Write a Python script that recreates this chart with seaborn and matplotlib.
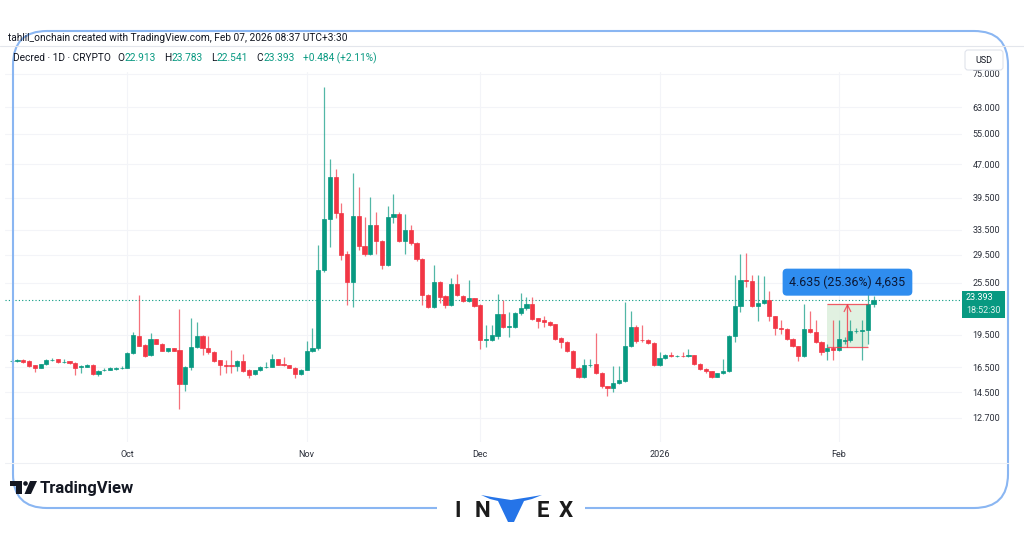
import numpy as np
import pandas as pd
import seaborn as sns
import matplotlib.pyplot as plt
import matplotlib.dates as mdates
from matplotlib.patches import FancyBboxPatch, Rectangle, Polygon, Circle
from matplotlib.ticker import NullLocator

# ---- data ----
start_date = '2025-09-11'
opens = [17.0, 17.05, 17.1, 17.05, 16.65, 16.45, 16.75, 17.1, 17.2, 16.95,
         17.0, 16.9, 16.55, 16.55, 16.7, 15.9, 16.25, 16.3, 16.35, 16.4,
         16.45, 17.75, 19.4, 18.5, 17.55, 19.05, 18.6, 17.95, 18.2, 18.0,
         15.1, 16.5, 18.3, 19.4, 18.25, 17.85, 17.1, 16.72, 16.68, 16.62,
         17.05, 16.3, 15.9, 16.25, 16.48, 16.55, 17.2, 16.8, 16.65, 16.45,
         15.9, 16.3, 17.9, 18.25, 27.3, 35.4, 44.0, 36.5, 29.6, 25.6,
         36.0, 30.8, 29.6, 34.3, 31.6, 27.95, 35.8, 36.4, 31.6, 33.5,
         31.3, 28.8, 23.95, 22.55, 25.6, 23.8, 22.75, 25.4, 23.8, 23.2,
         23.55, 22.7, 19.0, 19.0, 19.4, 21.7, 20.35, 20.35, 21.8, 22.35,
         22.85, 21.25, 21.0, 20.85, 20.6, 19.2, 18.8, 17.95, 16.45, 15.7,
         16.65, 16.8, 16.05, 14.95, 14.8, 15.2, 15.4, 18.4, 20.3, 19.0,
         19.0, 18.7, 16.7, 17.3, 17.6, 17.45, 17.5, 17.45, 17.55, 16.8,
         16.35, 16.15, 15.7, 16.0, 16.2, 19.4, 22.65, 25.9, 25.8, 22.6,
         22.95, 23.35, 21.45, 20.2, 20.1, 19.1, 18.4, 17.5, 20.1, 19.75,
         18.8, 17.9, 18.2, 18.05, 18.85, 18.95, 19.85, 19.9, 19.95, 22.913]
highs = [17.2, 17.25, 17.2, 17.1, 16.7, 16.8, 17.2, 17.3, 17.25, 17.2,
         17.05, 16.95, 16.7, 16.8, 16.75, 16.25, 16.45, 16.5, 16.55, 16.6,
         17.85, 19.75, 23.95, 18.55, 19.7, 19.1, 18.65, 18.25, 18.25, 22.3,
         16.6, 21.3, 20.85, 19.5, 19.4, 17.9, 17.15, 17.1, 18.0, 17.1,
         17.7, 16.35, 16.3, 16.6, 16.95, 17.7, 17.25, 17.35, 16.7, 16.5,
         16.35, 18.9, 20.2, 31.0, 70.0, 48.3, 45.8, 38.5, 30.0, 44.9,
         41.7, 35.8, 39.7, 36.7, 31.8, 37.9, 40.3, 36.7, 36.4, 34.4,
         31.5, 29.0, 24.1, 27.95, 25.8, 23.9, 26.2, 26.7, 23.9, 25.9,
         23.6, 22.8, 20.5, 20.5, 24.1, 23.3, 21.9, 21.9, 24.2, 23.7,
         23.7, 21.3, 21.5, 20.9, 20.65, 19.25, 18.85, 18.0, 16.5, 17.2,
         17.2, 19.7, 16.1, 15.0, 16.6, 16.6, 23.1, 22.0, 20.5, 20.5,
         19.05, 18.75, 17.8, 17.7, 17.8, 17.6, 17.85, 18.1, 17.6, 16.85,
         16.4, 16.2, 16.05, 17.2, 19.5, 26.5, 29.6, 29.8, 26.5, 26.5,
         26.4, 24.4, 21.5, 21.0, 20.15, 19.15, 18.45, 22.9, 22.0, 21.0,
         18.85, 18.6, 21.0, 21.0, 19.3, 21.0, 20.2, 21.0, 26.5, 23.783]
lows = [16.9, 16.95, 16.9, 16.55, 16.1, 16.4, 16.7, 17.05, 16.9, 16.9,
        16.8, 15.85, 16.0, 16.5, 15.85, 15.8, 16.2, 16.25, 16.3, 16.35,
        16.4, 17.65, 18.4, 17.4, 17.5, 18.55, 17.9, 17.85, 17.9, 13.3,
        14.6, 16.3, 18.2, 17.6, 17.7, 16.95, 15.85, 16.0, 16.0, 16.15,
        16.1, 15.6, 15.85, 16.2, 16.4, 16.5, 16.65, 16.6, 16.4, 15.6,
        15.85, 16.25, 17.8, 18.0, 27.0, 30.6, 35.7, 28.7, 22.7, 22.5,
        30.2, 29.2, 29.4, 29.6, 27.4, 27.8, 34.7, 31.4, 29.6, 31.0,
        28.6, 22.75, 22.4, 22.4, 23.0, 22.35, 22.6, 23.8, 23.1, 23.1,
        22.5, 18.1, 18.3, 18.9, 19.1, 20.2, 19.25, 20.2, 21.6, 22.2,
        21.0, 20.2, 20.3, 20.4, 19.0, 18.25, 17.8, 16.4, 15.6, 15.6,
        16.5, 15.9, 14.85, 14.25, 14.5, 15.1, 15.3, 18.3, 18.7, 18.8,
        18.6, 16.6, 16.6, 17.2, 17.4, 17.35, 17.35, 17.4, 16.7, 16.3,
        16.05, 15.6, 15.65, 15.95, 16.1, 18.8, 21.9, 25.0, 22.5, 20.9,
        22.8, 20.9, 19.5, 19.6, 19.0, 18.3, 17.05, 17.4, 19.65, 18.7,
        17.6, 17.1, 17.1, 17.9, 18.6, 18.8, 19.7, 17.1, 18.6, 22.541]
closes = [17.05, 17.1, 16.98, 16.6, 16.45, 16.75, 17.1, 17.15, 16.95, 16.98,
          16.85, 16.45, 16.62, 16.7, 15.9, 16.2, 16.3, 16.4, 16.4, 16.45,
          17.75, 19.45, 18.45, 17.5, 19.05, 18.6, 17.95, 18.2, 17.95, 15.1,
          16.5, 18.3, 19.35, 18.25, 17.85, 17.05, 16.7, 16.62, 16.6, 17.05,
          16.2, 15.85, 16.25, 16.5, 16.55, 17.2, 16.7, 16.65, 16.45, 15.9,
          16.3, 17.9, 18.25, 27.3, 35.4, 44.0, 36.5, 29.4, 25.6, 36.0,
          30.8, 29.6, 34.3, 31.6, 27.95, 35.8, 36.4, 31.6, 33.5, 31.3,
          28.8, 23.95, 22.55, 25.6, 23.75, 22.75, 25.4, 23.95, 23.2, 23.55,
          22.6, 19.0, 19.1, 19.5, 21.7, 20.3, 20.45, 21.8, 22.35, 22.85,
          21.15, 20.95, 20.85, 20.5, 19.1, 18.8, 17.95, 16.45, 15.7, 16.7,
          16.72, 16.0, 14.95, 14.8, 15.2, 15.45, 18.4, 20.3, 18.9, 18.95,
          18.7, 16.7, 17.3, 17.6, 17.45, 17.5, 17.45, 17.55, 16.8, 16.35,
          16.15, 15.7, 16.0, 16.2, 19.4, 22.65, 25.9, 25.7, 22.6, 22.95,
          23.35, 21.45, 20.2, 20.05, 19.1, 18.4, 17.5, 20.1, 19.75, 18.8,
          17.85, 18.25, 18.0, 19.05, 19.0, 19.85, 19.92, 19.98, 22.9, 23.393]

price_ticks = [12.7, 14.5, 16.5, 19.5, 25.5, 29.5, 33.5, 39.5, 47.0, 55.0, 63.0, 75.0]
month_ticks = ['2025-10-01', '2025-11-01', '2025-12-01', '2026-01-01', '2026-02-01']
month_labels = ['Oct', 'Nov', 'Dec', '2026', 'Feb']

change = '+0.484 (+2.11%)'
countdown = '18:52:30'
measure_lo, measure_hi = 18.277, 22.912
measure_from, measure_to = 141, 148   # candle indices spanned by the measure tool
measure_text = '4.635 (25.36%) 4,635'

UP, DOWN, INK = '#089981', '#F23645', '#131722'

sns.set_theme(style='white')
plt.rcParams['font.family'] = ['Roboto', 'DejaVu Sans']

df = pd.DataFrame({'date': pd.date_range(start_date, periods=len(opens), freq='D'),
                   'open': opens, 'high': highs, 'low': lows, 'close': closes})
df['x'] = mdates.date2num(df['date'])
df['up'] = df['close'] >= df['open']
colors = np.where(df['up'], UP, DOWN)

W, H = 1024, 538
fig = plt.figure(figsize=(W / 100, H / 100), dpi=100)
fig.patch.set_facecolor('white')

# chart pane (pixel box: x 5..962, y 72..442)
ax = fig.add_axes([5 / W, (H - 442) / H, (962 - 5) / W, (442 - 72) / H])
ax.set_facecolor('white')
ax.set_yscale('log')
ax.set_ylim(11.22, 75.6)
x0 = df['x'].iloc[0]
ax.set_xlim(x0 - 1.16, x0 + 164.3)

ax.vlines(df['x'], df['low'], df['high'], colors=colors, linewidth=0.9, alpha=0.7, zorder=3)
ax.bar(df['x'], (df['close'] - df['open']).abs(), bottom=df[['open', 'close']].min(axis=1),
       width=0.72, color=colors, edgecolor=colors, linewidth=0.5, zorder=4)

last = closes[-1]
ax.axhline(last, color=UP, linestyle=(0, (1, 2)), linewidth=0.8, zorder=2)

# measure tool
xa, xb = df['x'].iloc[measure_from], df['x'].iloc[measure_to]
ax.add_patch(Rectangle((xa, measure_lo), xb - xa, measure_hi - measure_lo,
                       facecolor='#dcefdc', edgecolor='none', alpha=0.85, zorder=1))
ax.hlines([measure_lo, measure_hi], xa, xb, color=DOWN, linewidth=0.9, alpha=0.8, zorder=5)
xm = (xa + xb) / 2
ax.annotate('', xy=(xm, measure_hi), xytext=(xm, measure_lo),
            arrowprops=dict(arrowstyle='->', color=DOWN, lw=0.9, alpha=0.8,
                            shrinkA=0, shrinkB=0), zorder=5)
ax.text(xm, 0.432, measure_text, transform=ax.get_xaxis_transform(), ha='center', va='center',
        fontsize=8.9, color='#0b1836', zorder=6,
        bbox=dict(boxstyle='round,pad=0.55,rounding_size=0.35', fc='#2f8def', ec='none'))

ax.yaxis.set_minor_locator(NullLocator())
ax.set_yticks(price_ticks)
ax.set_yticklabels([f'{p:.3f}' for p in price_ticks])
ax.set_xticks(mdates.date2num(pd.to_datetime(month_ticks)))
ax.set_xticklabels(month_labels)
ax.yaxis.tick_right()
ax.tick_params(axis='y', length=0, pad=7.5, labelsize=6.5, labelcolor='#2a2e39')
ax.tick_params(axis='x', length=0, pad=5.5, labelsize=6.5, labelcolor='#2a2e39')
ax.grid(True, color='#f3f4f8', linewidth=0.8)
for s in ax.spines.values():
    s.set_visible(False)

# overlay in pixel units
ov = fig.add_axes([0, 0, 1, 1], zorder=10)
ov.set_xlim(0, W)
ov.set_ylim(H, 0)
ov.axis('off')
ov.patch.set_alpha(0)

renderer = fig.canvas.get_renderer()


def chain(x, y, parts, size):
    for text, color, gap in parts:
        t = ov.text(x, y, text, color=color, fontsize=size, ha='left', va='center')
        x += t.get_window_extent(renderer=renderer).width + gap


ov.text(8, 38, 'tahlil_onchain created with TradingView.com, Feb 07, 2026 08:37 UTC+3:30',
        fontsize=7.3, color=INK, va='center')
ov.plot([0, W], [46, 46], color='#e3e6ec', lw=0.8)
chain(13, 58, [('Decred · 1D · CRYPTO', INK, 6),
               ('O', INK, 0.5), (f'{opens[-1]:.3f}', UP, 8),
               ('H', INK, 0.5), (f'{highs[-1]:.3f}', UP, 8),
               ('L', INK, 0.5), (f'{lows[-1]:.3f}', UP, 8),
               ('C', INK, 0.5), (f'{closes[-1]:.3f}', UP, 8),
               (change, UP, 0)], 7.3)

# USD box
ov.add_patch(FancyBboxPatch((965, 50), 38, 20, boxstyle='round,pad=0,rounding_size=3',
                            fc='white', ec='#e0e3eb', lw=0.8))
ov.text(984, 60.5, 'USD', fontsize=6.5, color=INK, ha='center', va='center')

# last price label
ly = H - ax.transData.transform((x0, last))[1]
ov.add_patch(Rectangle((962, ly - 9), 43, 27, fc=UP, ec='none'))
ov.text(966, ly - 2, f'{last:.3f}', fontsize=6.5, color='white', va='center')
ov.text(966, ly + 11, countdown, fontsize=6.5, color='#dff3ee', va='center')

# time axis bottom line
ov.plot([5, 1008], [463, 463], color='#eef0f4', lw=0.8)

# rounded blue frame
ov.add_patch(FancyBboxPatch((13, 31), 995, 477, boxstyle='round,pad=0,rounding_size=34',
                            fill=False, ec='#8ab6f2', lw=1.5))
ov.add_patch(Rectangle((437, 498), 148, 20, fc='white', ec='none'))

# TradingView logo
ov.add_patch(Rectangle((10, 481), 12, 4.5, fc=INK, ec='none'))
ov.add_patch(Rectangle((16, 481), 6, 13, fc=INK, ec='none'))
ov.add_patch(Circle((25.5, 483.5), 2.3, fc=INK, ec='none'))
ov.add_patch(Polygon([(30, 481), (37, 481), (31, 494), (24.5, 494)], closed=True, fc=INK, ec='none'))
ov.text(40, 488, 'TradingView', fontsize=12, fontweight='bold', color=INK, va='center')

# INVEX logo
for ch, xc in [('I', 458), ('N', 482), ('E', 543), ('X', 566)]:
    ov.text(xc, 511, ch, fontsize=16, fontweight='bold', color='#1b1b1b', ha='center', va='center')
ov.add_patch(Polygon([(481, 495), (490, 499), (498, 501), (508, 522), (514, 522), (524, 501),
                      (532, 499), (542, 495), (530, 497), (511, 500), (492, 497)],
                     closed=True, fc='#2574e8', ec='none'))

fig.savefig('out.png', dpi=100, facecolor='white')
